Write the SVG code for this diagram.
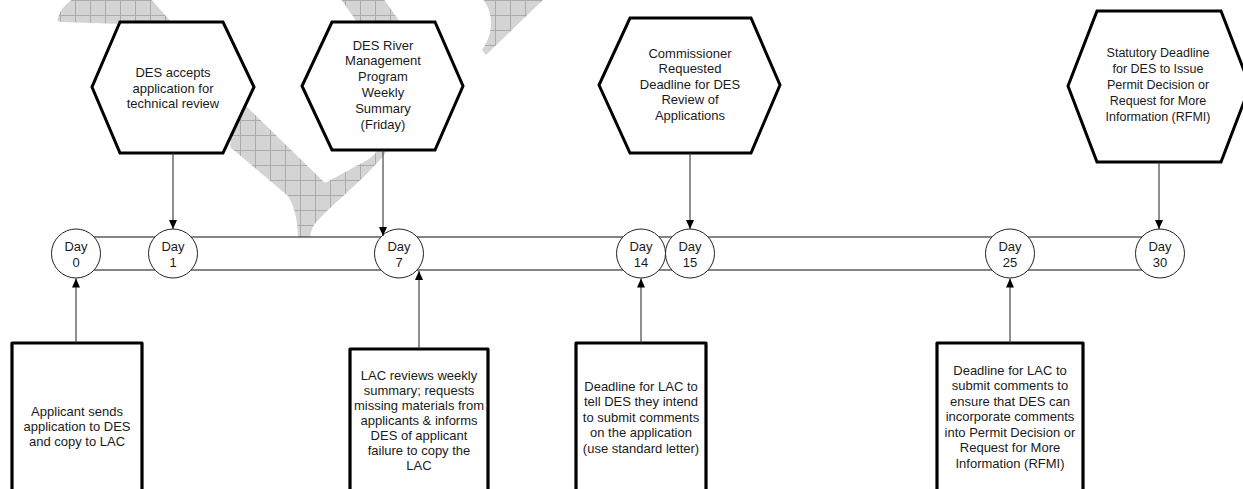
<svg xmlns="http://www.w3.org/2000/svg" width="1243" height="489" viewBox="0 0 1243 489">
<defs>
<pattern id="grid" patternUnits="userSpaceOnUse" x="0" y="0" width="15" height="15">
<rect width="15" height="15" fill="#d4d4d4"/>
<path d="M0,0.5 H15 M0.5,0 V15" stroke="#ababab" stroke-width="1" fill="none"/>
</pattern>
<marker id="arr" markerUnits="userSpaceOnUse" markerWidth="10" markerHeight="8" refX="9" refY="4" orient="auto">
<path d="M0,0 L9,4 L0,8 Z" fill="#000"/>
</marker>
<style>
.hex{fill:#fff;stroke:#000;stroke-width:3;stroke-linejoin:miter}
.box{fill:#fff;stroke:#000;stroke-width:3.2;stroke-linejoin:round}
.day{fill:#fff;stroke:#222;stroke-width:1}
.bar{fill:#fff;stroke:#444;stroke-width:1.3}
.con{stroke:#333;stroke-width:1.1;fill:none;marker-end:url(#arr)}
text{font-family:"Liberation Sans",Arial,sans-serif;font-size:13px;fill:#1a1a1a;text-anchor:middle}
.sm{font-size:12.5px}
</style>
</defs>
<rect width="1243" height="489" fill="#fff"/>
<g id="watermark">
<path fill="url(#grid)" d="M58,18 C60,10 66,4 74,-2 L150,-2 L247,107 L325,183 C340,175 352,168 362,163 Q372,158 378,150 L376,90 L357,22 L340,-2 L383,-2 L400,22 L425,70 L415,115 L388,150 C365,180 330,205 314,225 Q310,232 310,240 L298,240 Q298,212 288,196 L230,147 L235,110 L122,24 L62,22 Q56,22 58,18 Z"/>
<path fill="url(#grid)" d="M482,-2 C492,10 496,30 482,50 L486,55 L545,-2 Z"/>
</g>
<g id="timeline">
<rect class="bar" x="76" y="237" width="1084" height="33"/>
</g>
<g id="hex1">
<polygon class="hex" points="120,22 223,22 254,87 223,153 120,153 92,87"/>
<text x="173" y="77">DES accepts</text>
<text x="173" y="92.5">application for</text>
<text x="173" y="108">technical review</text>
</g>
<g id="hex2">
<polygon class="hex" points="332,22 435,22 463,86 435,150 332,150 302,86"/>
<text x="383" y="49.5">DES River</text>
<text x="383" y="65.3">Management</text>
<text x="383" y="81.1">Program</text>
<text x="383" y="96.9">Weekly</text>
<text x="383" y="112.7">Summary</text>
<text x="383" y="128.5">(Friday)</text>
</g>
<g id="hex3">
<polygon class="hex" points="630,18 751,18 780,85 751,153 630,153 599,85"/>
<text x="690" y="57.5">Commissioner</text>
<text x="690" y="73">Requested</text>
<text x="690" y="88.5">Deadline for DES</text>
<text x="690" y="104">Review of</text>
<text x="690" y="119.5">Applications</text>
</g>
<g id="hex4">
<polygon class="hex" points="1097,11 1221,11 1250,86 1221,162 1097,162 1068,86"/>
<text class="sm" x="1158" y="57.3">Statutory Deadline</text>
<text class="sm" x="1158" y="73.2">for DES to Issue</text>
<text class="sm" x="1158" y="89.1">Permit Decision or</text>
<text class="sm" x="1158" y="105">Request for More</text>
<text class="sm" x="1158" y="120.9">Information (RFMI)</text>
</g>
<g id="day0"><circle class="day" cx="76" cy="253.5" r="24.5"/><text x="76" y="250.5">Day</text><text x="76" y="266.5">0</text></g>
<g id="day1"><circle class="day" cx="173" cy="253.5" r="24.5"/><text x="173" y="250.5">Day</text><text x="173" y="266.5">1</text></g>
<g id="day7"><circle class="day" cx="399" cy="253.5" r="24.5"/><text x="399" y="250.5">Day</text><text x="399" y="266.5">7</text></g>
<g id="day14"><circle class="day" cx="641" cy="253.5" r="24.5"/><text x="641" y="250.5">Day</text><text x="641" y="266.5">14</text></g>
<g id="day15"><circle class="day" cx="690" cy="253.5" r="24.5"/><text x="690" y="250.5">Day</text><text x="690" y="266.5">15</text></g>
<g id="day25"><circle class="day" cx="1010" cy="253.5" r="24.5"/><text x="1010" y="250.5">Day</text><text x="1010" y="266.5">25</text></g>
<g id="day30"><circle class="day" cx="1160" cy="253.5" r="24.5"/><text x="1160" y="250.5">Day</text><text x="1160" y="266.5">30</text></g>
<g id="box1">
<rect class="box" x="12" y="343" width="130" height="170"/>
<text x="77" y="416">Applicant sends</text>
<text x="77" y="431">application to DES</text>
<text x="77" y="446">and copy to LAC</text>
</g>
<g id="box2">
<rect class="box" x="350" y="349" width="138" height="170"/>
<text x="419" y="379.5">LAC reviews weekly</text>
<text x="419" y="394.5">summary; requests</text>
<text x="419" y="409.5">missing materials from</text>
<text x="419" y="424.5">applicants &amp; informs</text>
<text x="419" y="439.5">DES of applicant</text>
<text x="419" y="454.5">failure to copy the</text>
<text x="419" y="469.5">LAC</text>
</g>
<g id="box3">
<rect class="box" x="576" y="343" width="130" height="170"/>
<text x="641" y="390.5">Deadline for LAC to</text>
<text x="641" y="406">tell DES they intend</text>
<text x="641" y="421.5">to submit comments</text>
<text x="641" y="437">on the application</text>
<text x="641" y="452.5">(use standard letter)</text>
</g>
<g id="box4">
<rect class="box" x="937" y="343" width="146" height="170"/>
<text x="1010" y="374.5">Deadline for LAC to</text>
<text x="1010" y="390">submit comments to</text>
<text x="1010" y="405.5">ensure that DES can</text>
<text x="1010" y="421">incorporate comments</text>
<text x="1010" y="436.5">into Permit Decision or</text>
<text x="1010" y="452">Request for More</text>
<text x="1010" y="467.5">Information (RFMI)</text>
</g>
<g id="connectors">
<path class="con" d="M173,153 V229"/>
<path class="con" d="M383,150 V236"/>
<path class="con" d="M690,153 V229"/>
<path class="con" d="M1159,162 V229"/>
<path class="con" d="M76,343 V278.5"/>
<path class="con" d="M419,349 V271"/>
<path class="con" d="M641,343 V278.5"/>
<path class="con" d="M1010,343 V278.5"/>
</g>
</svg>
